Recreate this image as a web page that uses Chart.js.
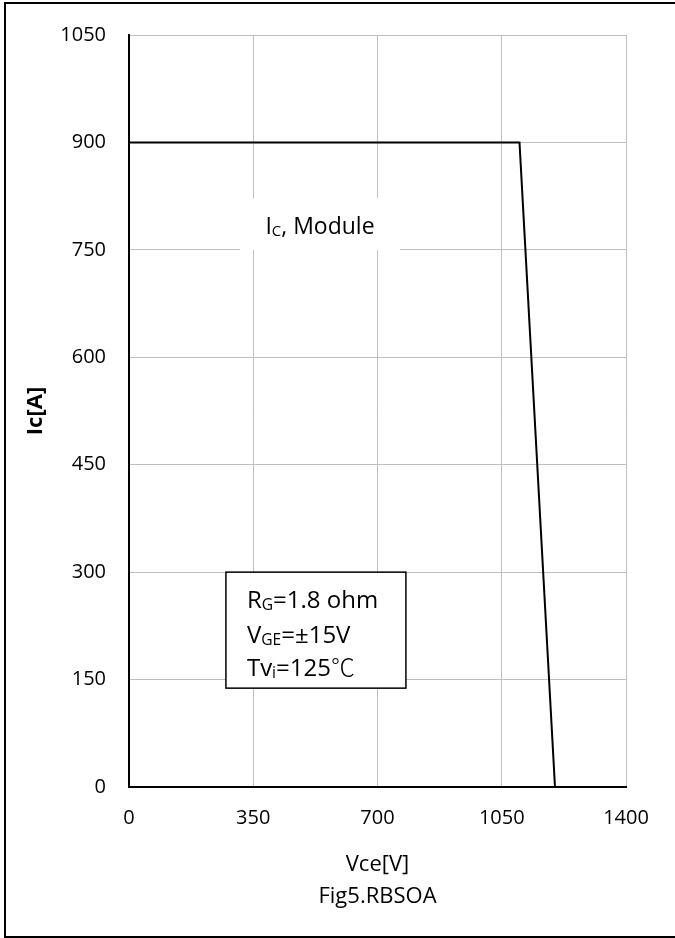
<!DOCTYPE html>
<html>
<head>
<meta charset="utf-8">
<script src="https://cdn.jsdelivr.net/npm/chart.js@4.4.1/dist/chart.umd.min.js"></script>
<style>
  html, body { margin: 0; padding: 0; background: #fff; }
  canvas { display: block; }
</style>
</head>
<body>
<canvas id="rbsoaChart" width="675" height="938"></canvas>
<script>
// RBSOA curve
var vce = [0, 1100, 1200];
var ic = [900, 900, 0];

var xTicks = [0, 350, 700, 1050, 1400];
var yTicks = [0, 150, 300, 450, 600, 750, 900, 1050];

var xTitle = 'Vce[V]';
var yTitle = 'Ic[A]';
var figTitle = 'Fig5.RBSOA';

var fontName = "'Open Sans', 'Noto Sans', sans-serif";
var cjkFont = "'Noto Sans CJK SC', sans-serif";

var points = vce.map(function (v, i) { return {x: v, y: ic[i]}; });

// draws text made of runs, some of them subscript
function runFont(r, size) {
    var s = r.sub ? size * 0.65 : size;
    var weight = r.light ? '300 ' : '';
    return weight + s + 'px ' + (r.cjk ? cjkFont : fontName);
}
function drawRuns(ctx, runs, x, y, size) {
    runs.forEach(function (r) {
        ctx.font = runFont(r, size);
        ctx.fillText(r.t, x, y + (r.sub ? 2 : 0));
        x += ctx.measureText(r.t).width;
    });
    return x;
}
function runsWidth(ctx, runs, size) {
    var w = 0;
    runs.forEach(function (r) {
        ctx.font = runFont(r, size);
        w += ctx.measureText(r.t).width;
    });
    return w;
}

var extras = {
    id: 'extras',
    beforeDraw: function (chart) {
        var ctx = chart.ctx;
        ctx.save();
        ctx.fillStyle = '#fff';
        ctx.fillRect(0, 0, chart.width, chart.height);
        ctx.restore();
    },
    afterDatasetsDraw: function (chart) {
        var ctx = chart.ctx;
        var xs = chart.scales.x, ys = chart.scales.y;
        var area = chart.chartArea;
        ctx.save();

        // label "Ic, Module" on a white patch
        var lx = xs.getPixelForValue(538), ly = ys.getPixelForValue(786);
        ctx.fillStyle = '#fff';
        ctx.fillRect(lx - 80, ly - 26, 160, 52);
        var lbl = [{t: 'I'}, {t: 'C', sub: true}, {t: ', Module'}];
        ctx.fillStyle = '#000';
        ctx.textBaseline = 'alphabetic';
        ctx.textAlign = 'left';
        var w = runsWidth(ctx, lbl, 23);
        drawRuns(ctx, lbl, lx - w / 2, ly + 10, 23);

        // condition box
        var bx = xs.getPixelForValue(273), by = ys.getPixelForValue(300);
        ctx.fillStyle = '#fff';
        ctx.fillRect(bx, by, 180, 116);
        ctx.strokeStyle = '#000';
        ctx.lineWidth = 1.5;
        ctx.strokeRect(bx, by, 180, 116);
        ctx.fillStyle = '#000';
        drawRuns(ctx, [{t: 'R'}, {t: 'G', sub: true}, {t: '=1.8 ohm'}], bx + 21, by + 36, 24);
        drawRuns(ctx, [{t: 'V'}, {t: 'GE', sub: true}, {t: '=\u00b115V'}], bx + 21, by + 71, 24);
        drawRuns(ctx, [{t: 'Tv'}, {t: 'i', sub: true}, {t: '=125'}, {t: '\u2103', cjk: true, light: true}], bx + 21, by + 104, 24);

        // axis titles
        var cx = (area.left + area.right) / 2;
        ctx.textAlign = 'center';
        ctx.textBaseline = 'middle';
        ctx.font = '22px ' + fontName;
        ctx.fillText(xTitle, cx, 865);
        ctx.fillText(figTitle, cx, 897);

        ctx.translate(36, (area.top + area.bottom) / 2);
        ctx.rotate(-Math.PI / 2);
        ctx.font = 'bold 22px ' + fontName;
        ctx.fillText(yTitle, 0, 0);
        ctx.restore();

        // outer frame
        ctx.save();
        ctx.strokeStyle = '#000';
        ctx.lineWidth = 2;
        ctx.beginPath();
        ctx.moveTo(680, 3);
        ctx.lineTo(5, 3);
        ctx.lineTo(5, 937);
        ctx.lineTo(680, 937);
        ctx.stroke();
        ctx.restore();
    }
};

var ctx = document.getElementById('rbsoaChart').getContext('2d');
new Chart(ctx, {
    type: 'scatter',
    data: {
        datasets: [{
            data: points,
            showLine: true,
            borderColor: '#000',
            borderWidth: 2,
            pointRadius: 0,
            fill: false
        }]
    },
    options: {
        responsive: false,
        animation: false,
        events: [],
        layout: { padding: { top: 32, right: 49, left: 0, bottom: 0 } },
        plugins: { legend: { display: false }, tooltip: { enabled: false } },
        scales: {
            x: {
                type: 'linear',
                min: 0,
                max: 1400,
                afterBuildTicks: function (s) { s.ticks = xTicks.map(function (v) { return {value: v}; }); },
                afterFit: function (s) { s.height = 151; },
                grid: { color: '#bfbfbf', lineWidth: 1, drawTicks: false },
                border: { color: '#000', width: 2 },
                ticks: {
                    color: '#000', padding: 19, maxRotation: 0,
                    font: { family: fontName, size: 20 },
                    callback: function (v) { return String(v); }
                }
            },
            y: {
                type: 'linear',
                min: 0,
                max: 1050,
                afterBuildTicks: function (s) { s.ticks = yTicks.map(function (v) { return {value: v}; }); },
                afterFit: function (s) { s.width = 129; },
                grid: { color: '#bfbfbf', lineWidth: 1, drawTicks: false },
                border: { color: '#000', width: 2 },
                ticks: {
                    color: '#000', padding: 23,
                    font: { family: fontName, size: 20 },
                    callback: function (v) { return String(v); }
                }
            }
        }
    },
    plugins: [extras]
});
</script>
</body>
</html>
